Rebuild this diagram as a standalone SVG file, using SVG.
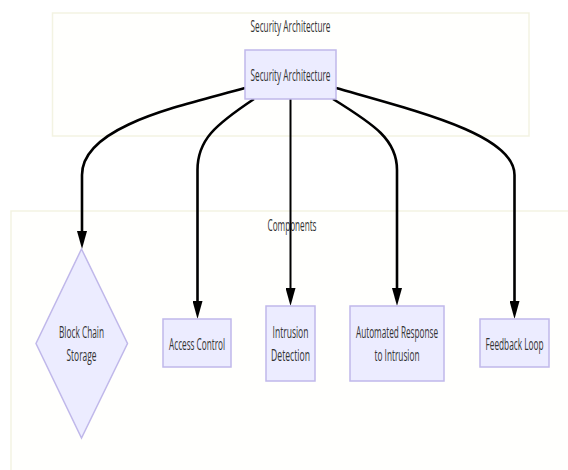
<svg xmlns="http://www.w3.org/2000/svg" width="568" height="470" viewBox="0 0 568 470">
<defs>
<style>
.cluster{fill:#fffffd;stroke:#f3f3e2;stroke-width:1.5}
.node{fill:#ececff;stroke:#c0b8ea;stroke-width:1.5}
text{font-family:"Open Sans","Liberation Sans",sans-serif;font-size:15.5px;fill:#333;text-anchor:middle}
.edge{fill:none;stroke:#000;stroke-width:2.6}
</style>
<marker id="arr" viewBox="0 0 18 10" refX="7" refY="5" markerWidth="18" markerHeight="10" markerUnits="userSpaceOnUse" orient="auto">
<path d="M0,0 L18,5 L0,10 z" fill="#000"/>
</marker>
</defs>
<rect width="568" height="470" fill="#fff"/>
<g id="cluster-security">
<rect class="cluster" x="52.5" y="13" width="476.5" height="123"/>
<text transform="translate(290.5,32) scale(0.6,1)" textLength="133.3" lengthAdjust="spacingAndGlyphs">Security Architecture</text>
</g>
<g id="cluster-components">
<rect class="cluster" x="11" y="211" width="600" height="300"/>
<text transform="translate(292,231) scale(0.6,1)" textLength="81.7" lengthAdjust="spacingAndGlyphs">Components</text>
</g>
<g id="connectors">
<path class="edge" d="M245,88 C185,105 82,125 82,175 L82,238" marker-end="url(#arr)"/>
<path class="edge" d="M254,99 C215,125 197.5,140 197.5,170 L197.5,308" marker-end="url(#arr)"/>
<path class="edge" style="stroke-width:2" d="M290.5,99 L290.5,295" marker-end="url(#arr)"/>
<path class="edge" d="M333,99 C375,125 397,140 397,170 L397,295" marker-end="url(#arr)"/>
<path class="edge" d="M336,88 C420,112 514.5,135 514.5,175 L514.5,308" marker-end="url(#arr)"/>
</g>
<g id="node-security">
<rect class="node" x="245" y="50" width="91" height="49"/>
<text transform="translate(290.5,81) scale(0.6,1)" textLength="133.3" lengthAdjust="spacingAndGlyphs">Security Architecture</text>
</g>
<g id="node-blockchain">
<polygon class="node" points="81.5,249 127.5,343.5 81.5,438 36,343.5"/>
<text transform="translate(81.5,338) scale(0.6,1)" textLength="75" lengthAdjust="spacingAndGlyphs">Block Chain</text>
<text transform="translate(81.5,361) scale(0.6,1)" textLength="50" lengthAdjust="spacingAndGlyphs">Storage</text>
</g>
<g id="node-access">
<rect class="node" x="163" y="319" width="68" height="48"/>
<text transform="translate(197,350) scale(0.6,1)" textLength="93.3" lengthAdjust="spacingAndGlyphs">Access Control</text>
</g>
<g id="node-intrusion">
<rect class="node" x="266" y="306" width="49" height="75"/>
<text transform="translate(290.5,338) scale(0.6,1)" textLength="60" lengthAdjust="spacingAndGlyphs">Intrusion</text>
<text transform="translate(290.5,361) scale(0.6,1)" textLength="65" lengthAdjust="spacingAndGlyphs">Detection</text>
</g>
<g id="node-automated">
<rect class="node" x="350" y="306" width="94" height="75"/>
<text transform="translate(397,338) scale(0.6,1)" textLength="136.7" lengthAdjust="spacingAndGlyphs">Automated Response</text>
<text transform="translate(397,361) scale(0.6,1)" textLength="75" lengthAdjust="spacingAndGlyphs">to Intrusion</text>
</g>
<g id="node-feedback">
<rect class="node" x="480" y="319" width="69" height="48"/>
<text transform="translate(514.5,350) scale(0.6,1)" textLength="96.7" lengthAdjust="spacingAndGlyphs">Feedback Loop</text>
</g>
</svg>
